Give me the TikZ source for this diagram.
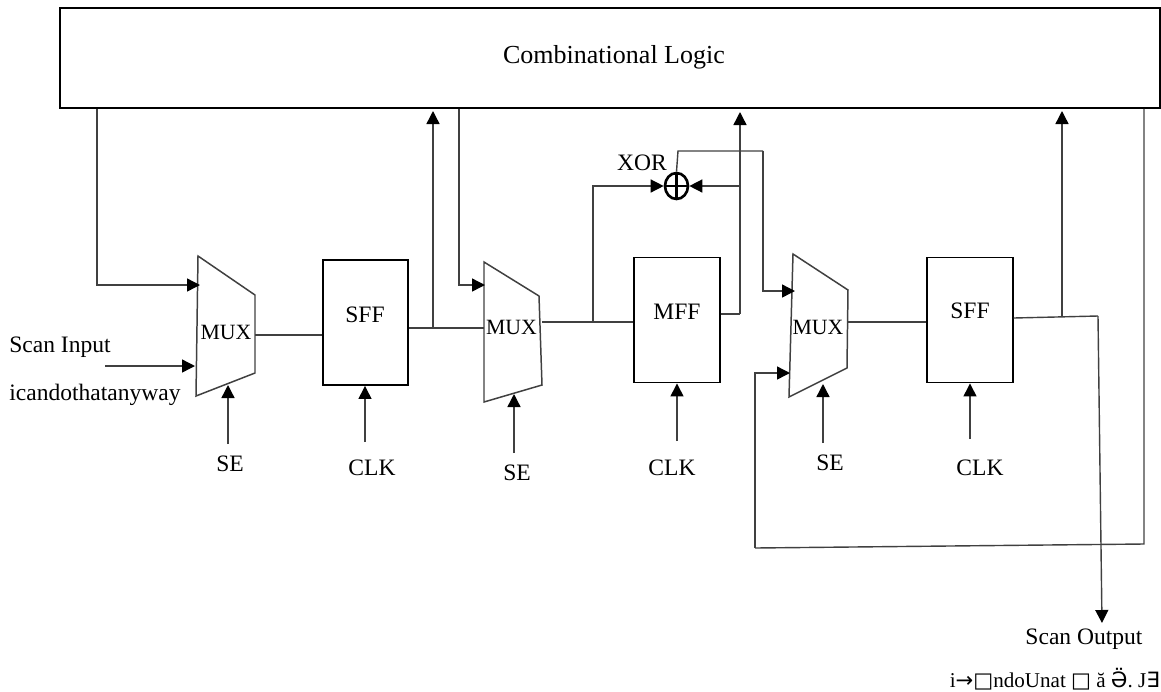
\documentclass[tikz,border=0pt]{standalone}
\usepackage{fontspec}
\setmainfont{Liberation Serif}
\newfontfamily\symfont{DejaVu Sans}
\usetikzlibrary{arrows.meta}
\usetikzlibrary{shapes.geometric}
\newcommand\LabelSize{\fontsize{13.4}{15}\selectfont}
\newcommand\MuxSize{\fontsize{12.4}{14}\selectfont}
\newcommand\TitleSize{\fontsize{14.8}{17}\selectfont}
\newcommand\FootSize{\fontsize{12}{14}\selectfont}
\definecolor{wiregray}{gray}{0.25}
\tikzset{
  block/.style={
    shape = rectangle,
    draw,
    line width=1.1pt,
    minimum width=1.71cm,
    minimum height=2.5cm,
    inner sep=0pt
  },
  logicbox/.style={
    shape = rectangle,
    draw,
    line width=1.1pt,
    minimum width=22cm,
    minimum height=2cm,
    inner sep=0pt
  },
  muxshape/.style={
    draw=wiregray,
    line width=0.85pt
  },
  wire/.style={
    draw=wiregray,
    line width=0.8pt
  },
  arrowwire/.style={
    wire,
    -{Triangle[length=0.26cm,width=0.26cm,color=black]}
  },
  plain/.style={
    inner sep=0pt,
    font=\LabelSize
  },
  muxlabel/.style={
    inner sep=0pt,
    font=\MuxSize
  },
  xorgate/.style={
    shape = ellipse,
    draw,
    line width=1.5pt,
    minimum width=0.46cm,
    minimum height=0.52cm,
    inner sep=0pt
  }
}
\begin{document}
\begin{tikzpicture}[x=0.02cm,y=-0.02cm]
\useasboundingbox (0,0) rectangle (1161,691);

       % top block and flip flops
       \node[logicbox] (logic) at (610,58) {};
       \node[plain,font=\TitleSize] (logictext) at (614,57) {Combinational Logic};
       \node[block] (sffa) at (365.5,322.5) {};
       \node[plain] (sffatext) at (365,315) {SFF};
       \node[block] (mff) at (677,320) {};
       \node[plain] (mfftext) at (677,312) {MFF};
       \node[block] (sffb) at (970,320) {};
       \node[plain] (sffbtext) at (970,311) {SFF};

       % the three muxes
       \draw[muxshape] (198,256) coordinate (muxaA) -- (255,295) coordinate (muxaB) -- (255,373) coordinate (muxaC) -- (196,396) coordinate (muxaD) -- cycle;
       \node[muxlabel] (muxatext) at (226,332) {MUX};
       \draw[muxshape] (484,262) coordinate (muxbA) -- (539,296) coordinate (muxbB) -- (542,385) coordinate (muxbC) -- (484,402) coordinate (muxbD) -- cycle;
       \node[muxlabel] (muxbtext) at (511.5,327) {MUX};
       \draw[muxshape] (793,254) coordinate (muxcA) -- (848,290) coordinate (muxcB) -- (847,368) coordinate (muxcC) -- (789,397) coordinate (muxcD) -- cycle;
       \node[muxlabel] (muxctext) at (818,327) {MUX};

       % xor gate
       \node[xorgate] (xor) at (676.5,186) {};
       \draw[line width=1.2pt] (xor.north) -- (xor.south);
       \draw[line width=1.2pt] (xor.west) -- (xor.east);
       \node[plain] (xortext) at (642,163) {XOR};

       % first stage
       \coordinate (scanstart) at (105,366);
       \coordinate (muxaside) at (195,366);
       \coordinate (muxatop) at (200,285);
       \draw[arrowwire] (logic.south -| 97,0) |- (muxatop);
       \draw[arrowwire] (scanstart) -- (muxaside);
       \draw[wire] (255,335) -- (sffa.west |- 0,335);
       \draw[wire] (sffa.east |- 0,328) -- (484,328);
       \draw[arrowwire] (433,328) -- (433,111);

       % second stage
       \coordinate (muxbtop) at (485,285);
       \draw[arrowwire] (logic.south -| 459,0) |- (muxbtop);
       \draw[wire] (542,322) -- (mff.west |- 0,322);
       \draw[arrowwire] (593,322) |- (xor.west);
       \draw[wire] (mff.east |- 0,314) -- (740,314);
       \draw[arrowwire] (740,314) -- (740,112);
       \draw[arrowwire] (740,186) -- (xor.east);

       % third stage
       \coordinate (xorturn) at (678,151);
       \coordinate (muxcturn) at (763,151);
       \coordinate (muxctop) at (795,291);
       \draw[wire] (xor.north) -- (xorturn) -- (muxcturn);
       \draw[arrowwire] (muxcturn) |- (muxctop);
       \draw[wire] (848,322) -- (sffb.west |- 0,322);
       \draw[wire] (sffb.east |- 0,318) -- (1098,316);
       \draw[arrowwire] (1062,317) -- (1062,111);
       \coordinate (scanend) at (1102,623);
       \draw[arrowwire] (1098,316) -- (scanend);

       % feedback
       \coordinate (feedright) at (1144,544);
       \coordinate (feedleft) at (755,548);
       \coordinate (muxclow) at (790,373);
       \draw[wire] (logic.south -| 1144,0) -- (feedright) -- (feedleft);
       \draw[arrowwire] (feedleft) |- (muxclow);

       % select and clock inputs
       \node[plain] (sea) at (230,464) {SE};
       \node[plain] (clka) at (372,468) {CLK};
       \node[plain] (seb) at (517,473) {SE};
       \node[plain] (clkb) at (672,468) {CLK};
       \node[plain] (sec) at (830,463) {SE};
       \node[plain] (clkc) at (980,468) {CLK};
       \draw[arrowwire] (228,444) -- (228,385);
       \draw[arrowwire] (365,442) -- (sffa.south -| 365,0);
       \draw[arrowwire] (514,453) -- (514,394);
       \draw[arrowwire] (677,441) -- (mff.south -| 677,0);
       \draw[arrowwire] (823,443) -- (823,384);
       \draw[arrowwire] (970,439) -- (sffb.south -| 970,0);

       % free text
       \node[plain] (scanin) at (60,347) {Scan Input};
       \node[plain] (scanextra) at (95,395) {icandothatanyway};
       \node[plain] (scanout) at (1084,639) {Scan Output};
       \node[plain,font=\FootSize,anchor=east] (garbled) at (1160,679) {i{\symfont →□}ndoUnat {\symfont □} ă {\symfont Ӛ}. J{\symfont ∃}};

\end{tikzpicture}
\end{document}
